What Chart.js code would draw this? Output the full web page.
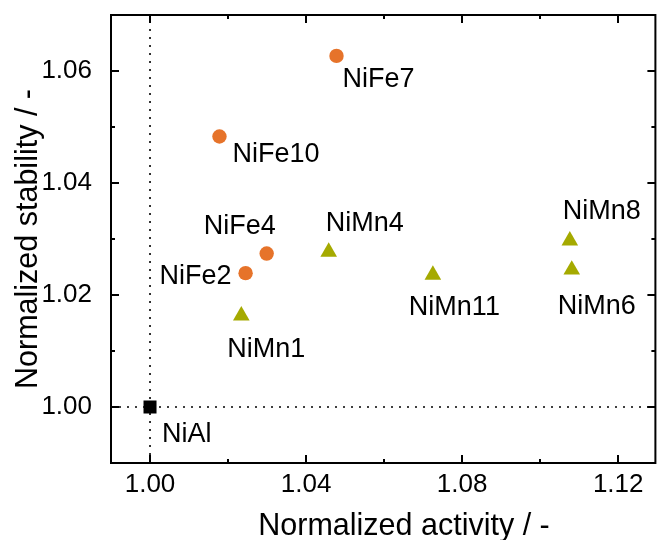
<!DOCTYPE html>
<html>
<head>
<meta charset="utf-8">
<script src="https://cdn.jsdelivr.net/npm/chart.js@4.4.1/dist/chart.umd.min.js"></script>
<style>
  html, body { margin: 0; padding: 0; background: #fff; }
  canvas { display: block; }
</style>
</head>
<body>
<canvas id="chart" width="659" height="540"></canvas>
<script>
// Normalized activity (x) and normalized stability (y) per sample
const niFeNames = ['NiFe7', 'NiFe10', 'NiFe4', 'NiFe2'];
const niFeActivity = [1.0478, 1.0178, 1.0299, 1.0245];
const niFeStability = [1.0627, 1.0483, 1.0274, 1.0239];

const niMnNames = ['NiMn1', 'NiMn4', 'NiMn11', 'NiMn8', 'NiMn6'];
const niMnActivity = [1.0234, 1.0458, 1.0725, 1.1076, 1.1081];
const niMnStability = [1.0163, 1.0277, 1.0236, 1.0297, 1.0245];

const refNames = ['NiAl'];
const refActivity = [1.00];
const refStability = [1.00];

// Axis ranges and ticks
const xRange = [0.99, 1.128];
const yRange = [0.99, 1.07];
const xTickValues = [1.00, 1.04, 1.08, 1.12];
const xMinorValues = [1.02, 1.06, 1.10];
const yTickValues = [1.00, 1.02, 1.04, 1.06];
const yMinorValues = [1.01, 1.03, 1.05];

const FONT = '"Liberation Sans", Arial, Helvetica, sans-serif';
const ORANGE = '#E6732A';
const OLIVE = '#A5AA00';

// Where each name sits relative to its marker: [dx, dy to baseline, align]
const labelPlacement = {
  NiFe7:  [6, 31, 'left'],
  NiFe10: [13, 25, 'left'],
  NiFe4:  [9, -20, 'right'],
  NiFe2:  [-14, 11, 'right'],
  NiMn1:  [-14, 41, 'left'],
  NiMn4:  [-3, -21, 'left'],
  NiMn11: [-24, 40, 'left'],
  NiMn8:  [-7, -22, 'left'],
  NiMn6:  [-14, 44, 'left'],
  NiAl:   [12, 35, 'left']
};

const toPoints = (xs, ys) => xs.map((x, i) => ({ x: x, y: ys[i] }));

// Keep the plot box exactly where the layout puts it
const noScalePadding = s => {
  s.paddingTop = 0; s.paddingBottom = 0; s.paddingLeft = 0; s.paddingRight = 0;
};

// Axis frame with inward ticks on all four sides, names and axis titles
const framePlugin = {
  id: 'frame',
  afterDatasetsDraw(chart) {
    const ctx = chart.ctx;
    ctx.save();
    ctx.fillStyle = '#000';
    ctx.font = '27px ' + FONT;
    ctx.textBaseline = 'alphabetic';
    chart.data.datasets.forEach((ds, di) => {
      if (!ds.names) return;
      const meta = chart.getDatasetMeta(di);
      meta.data.forEach((pt, i) => {
        const name = ds.names[i];
        const p = labelPlacement[name];
        ctx.textAlign = p[2];
        ctx.fillText(name, pt.x + p[0], pt.y + p[1]);
      });
    });
    ctx.restore();
  },
  afterDraw(chart) {
    const ctx = chart.ctx;
    const a = chart.chartArea;
    const xs = chart.scales.x, ys = chart.scales.y;
    const rightEdge = a.right + 6;
    ctx.save();
    ctx.strokeStyle = '#000';
    ctx.lineWidth = 2;
    ctx.lineCap = 'square';
    ctx.beginPath();
    ctx.moveTo(a.left, a.bottom);
    ctx.lineTo(a.left, a.top);
    ctx.lineTo(rightEdge, a.top);
    ctx.moveTo(a.left, a.bottom);
    ctx.lineTo(rightEdge, a.bottom);
    ctx.moveTo(rightEdge, a.top);
    ctx.lineTo(rightEdge, a.bottom);
    ctx.stroke();
    ctx.lineCap = 'butt';
    const xTick = (v, len) => {
      const px = Math.round(xs.getPixelForValue(v));
      ctx.moveTo(px, a.bottom); ctx.lineTo(px, a.bottom - len);
      ctx.moveTo(px, a.top); ctx.lineTo(px, a.top + len);
    };
    const yTick = (v, len) => {
      const py = Math.round(ys.getPixelForValue(v));
      ctx.moveTo(a.left, py); ctx.lineTo(a.left + len, py);
      ctx.moveTo(rightEdge, py); ctx.lineTo(rightEdge - len, py);
    };
    ctx.beginPath();
    xTickValues.forEach(v => xTick(v, 8));
    xMinorValues.forEach(v => xTick(v, 4));
    yTickValues.forEach(v => yTick(v, 8));
    yMinorValues.forEach(v => yTick(v, 4));
    ctx.stroke();

    // axis titles
    ctx.fillStyle = '#000';
    ctx.font = '30.5px ' + FONT;
    ctx.textAlign = 'center';
    ctx.textBaseline = 'alphabetic';
    ctx.fillText('Normalized activity / -', 404, 535);
    ctx.translate(36.5, (a.top + a.bottom) / 2);
    ctx.rotate(-Math.PI / 2);
    ctx.fillText('Normalized stability / -', 0, 0);
    ctx.restore();
  }
};

new Chart(document.getElementById('chart'), {
  type: 'scatter',
  data: {
    datasets: [
      {
        // vertical reference at the NiAl activity
        data: [{ x: refActivity[0], y: yRange[0] }, { x: refActivity[0], y: yRange[1] }],
        showLine: true, borderColor: '#000', borderWidth: 1.6, borderDash: [2, 6],
        pointRadius: 0, fill: false
      },
      {
        // horizontal reference at the NiAl stability
        data: [{ x: xRange[0], y: refStability[0] }, { x: xRange[1], y: refStability[0] }],
        showLine: true, borderColor: '#000', borderWidth: 1.6, borderDash: [2, 6],
        pointRadius: 0, fill: false
      },
      {
        names: niFeNames,
        data: toPoints(niFeActivity, niFeStability),
        pointStyle: 'circle', pointRadius: 7.2, pointBorderWidth: 0,
        backgroundColor: ORANGE, borderColor: ORANGE
      },
      {
        names: niMnNames,
        data: toPoints(niMnActivity, niMnStability),
        pointStyle: 'triangle', pointRadius: 9.6, pointBorderWidth: 0,
        backgroundColor: OLIVE, borderColor: OLIVE
      },
      {
        names: refNames,
        data: toPoints(refActivity, refStability),
        pointStyle: 'rect', pointRadius: 9.2, pointBorderWidth: 0,
        backgroundColor: '#000', borderColor: '#000'
      }
    ]
  },
  options: {
    responsive: false,
    animation: false,
    events: [],
    layout: { padding: { top: 15, right: 0, left: 0, bottom: 0 } },
    plugins: { legend: { display: false }, tooltip: { enabled: false } },
    scales: {
      x: {
        type: 'linear',
        min: xRange[0], max: xRange[1],
        afterBuildTicks: s => { s.ticks = xTickValues.map(v => ({ value: v })); },
        afterFit: s => { s.height = 77; noScalePadding(s); },
        grid: { display: false },
        border: { display: false },
        ticks: {
          font: { family: FONT, size: 26 }, color: '#000', padding: -2,
          maxRotation: 0, autoSkip: false,
          callback: v => Number(v).toFixed(2)
        }
      },
      y: {
        type: 'linear',
        min: yRange[0], max: yRange[1],
        afterBuildTicks: s => { s.ticks = yTickValues.map(v => ({ value: v })); },
        afterFit: s => { s.width = 111; noScalePadding(s); },
        grid: { display: false },
        border: { display: false },
        ticks: {
          font: { family: FONT, size: 26 }, color: '#000', padding: 11,
          autoSkip: false,
          callback: v => Number(v).toFixed(2)
        }
      }
    }
  },
  plugins: [framePlugin]
});
</script>
</body>
</html>
